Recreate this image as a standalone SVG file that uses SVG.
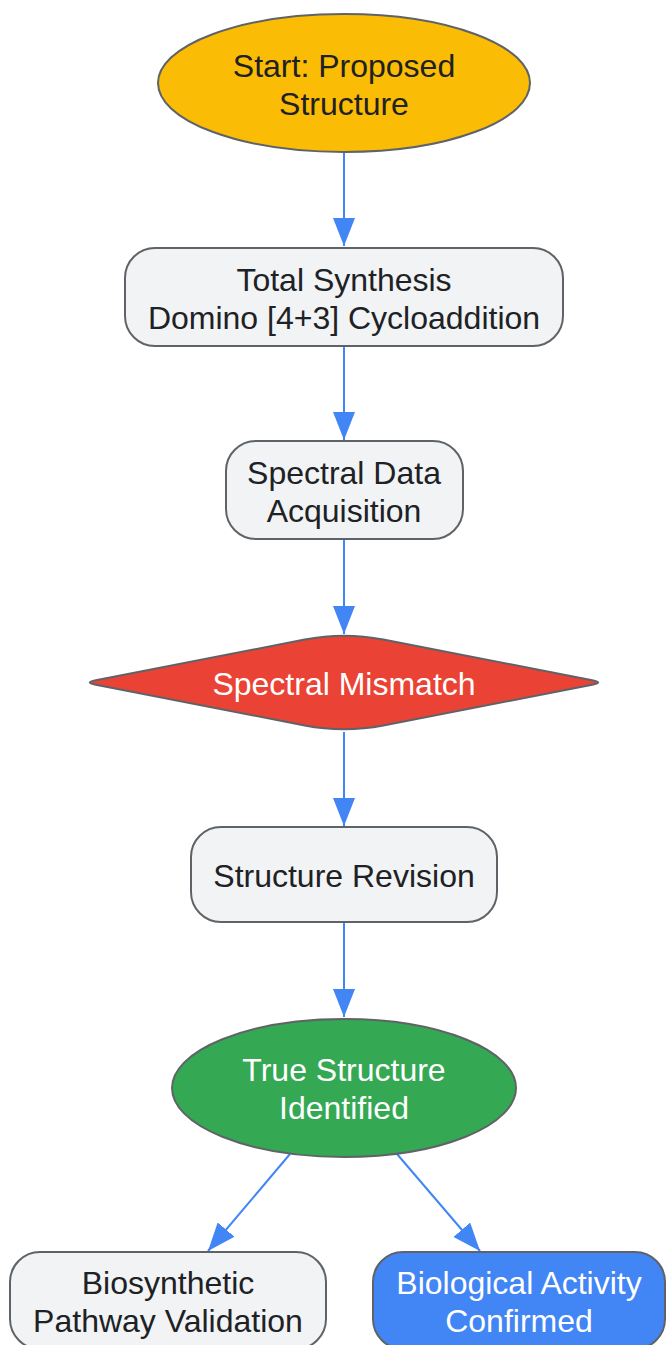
<svg xmlns="http://www.w3.org/2000/svg" width="666" height="1345" viewBox="0 0 666 1345">
<style>
  .shape { stroke: #5F6368; stroke-width: 2; }
  .light { fill: #F1F3F4; }
  .t { font-family: "Liberation Sans", Arial, sans-serif; font-size: 32px; text-anchor: middle; fill: #202124; }
  .w { fill: #FFFFFF; }
  .edge { fill: none; stroke: #4285F4; stroke-width: 2; }
</style>
<defs>
  <marker id="arrow" viewBox="0 0 28 22" refX="28" refY="11" markerWidth="28" markerHeight="22" markerUnits="userSpaceOnUse" orient="auto">
    <path d="M0,0 L28,11 L0,22 Z" fill="#4285F4"/>
  </marker>
</defs>
<rect width="666" height="1345" fill="#FFFFFF"/>
<g id="connectors">
  <path class="edge" d="M344,153 L344,246" marker-end="url(#arrow)"/>
  <path class="edge" d="M344,347 L344,440" marker-end="url(#arrow)"/>
  <path class="edge" d="M344,540 L344,634" marker-end="url(#arrow)"/>
  <path class="edge" d="M344,732 L344,826" marker-end="url(#arrow)"/>
  <path class="edge" d="M344,923 L344,1017" marker-end="url(#arrow)"/>
  <path class="edge" d="M290,1154 L208,1251" marker-end="url(#arrow)"/>
  <path class="edge" d="M397,1154 L480,1251" marker-end="url(#arrow)"/>
</g>
<g id="start">
  <ellipse class="shape" cx="344" cy="83" rx="186" ry="69" fill="#FBBC05"/>
  <text class="t" x="344" y="77">Start: Proposed</text>
  <text class="t" x="344" y="115">Structure</text>
</g>
<g id="synthesis">
  <rect class="shape light" x="125" y="248" width="438" height="98" rx="30"/>
  <text class="t" x="344" y="291">Total Synthesis</text>
  <text class="t" x="344" y="329">Domino [4+3] Cycloaddition</text>
</g>
<g id="spectral">
  <rect class="shape light" x="226" y="441" width="237" height="98" rx="30"/>
  <text class="t" x="344" y="484">Spectral Data</text>
  <text class="t" x="344" y="522">Acquisition</text>
</g>
<g id="mismatch">
  <path class="shape" fill="#EA4335" d="M304.7,639.6 Q344,632 383.3,639.6 L592.2,680.2 Q604,682.5 592.2,684.8 L383.3,725.4 Q344,733 304.7,725.4 L95.8,684.8 Q84,682.5 95.8,680.2 Z"/>
  <text class="t w" x="344" y="695">Spectral Mismatch</text>
</g>
<g id="revision">
  <rect class="shape light" x="191" y="827" width="306" height="95" rx="30"/>
  <text class="t" x="344" y="887">Structure Revision</text>
</g>
<g id="true">
  <ellipse class="shape" cx="344" cy="1088" rx="172" ry="69" fill="#34A853"/>
  <text class="t w" x="344" y="1081">True Structure</text>
  <text class="t w" x="344" y="1119">Identified</text>
</g>
<g id="biosynthetic">
  <rect class="shape light" x="10" y="1252" width="316" height="97" rx="30"/>
  <text class="t" x="168" y="1294">Biosynthetic</text>
  <text class="t" x="168" y="1332">Pathway Validation</text>
</g>
<g id="activity">
  <rect class="shape" x="373" y="1252" width="292" height="97" rx="30" fill="#4285F4"/>
  <text class="t w" x="519" y="1294">Biological Activity</text>
  <text class="t w" x="519" y="1332">Confirmed</text>
</g>
</svg>
